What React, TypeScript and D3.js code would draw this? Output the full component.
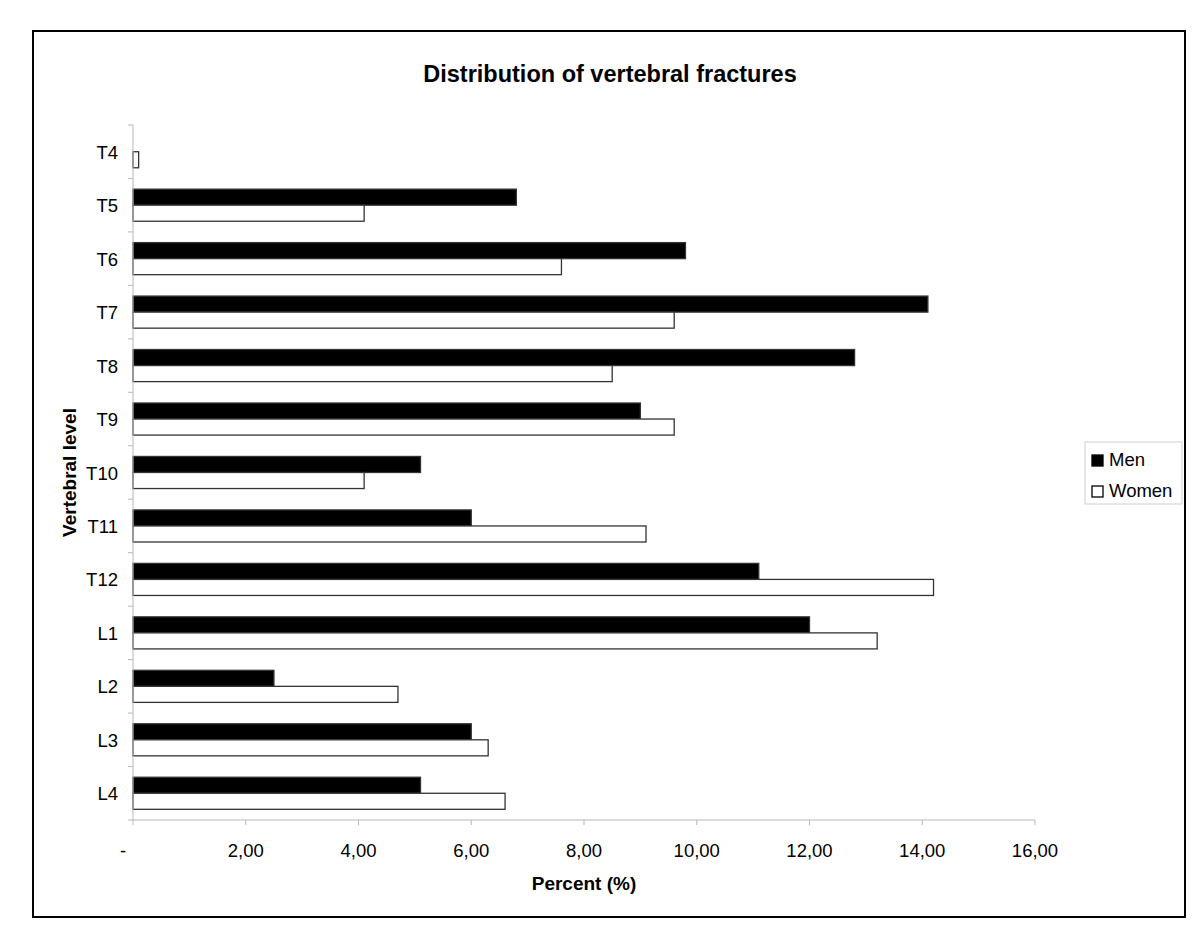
import React from 'react';
import * as d3 from 'd3';

const levels = ['T4', 'T5', 'T6', 'T7', 'T8', 'T9', 'T10', 'T11', 'T12', 'L1', 'L2', 'L3', 'L4'];
const men = [0, 6.8, 9.8, 14.1, 12.8, 9.0, 5.1, 6.0, 11.1, 12.0, 2.5, 6.0, 5.1];
const women = [0.1, 4.1, 7.6, 9.6, 8.5, 9.6, 4.1, 9.1, 14.2, 13.2, 4.7, 6.3, 6.6];
const seriesNames = ['Men', 'Women'];
const xTicks = [0, 2, 4, 6, 8, 10, 12, 14, 16];

const W = 1200, H = 936;
const M = { left: 133, right: 165, top: 125, bottom: 116 };
const FONT = '"Liberation Sans", Arial, sans-serif';
const AXIS = '#b8b8b8';

export default function App() {
  const x = d3.scaleLinear().domain([0, 16]).range([M.left, W - M.right]);
  const y = d3.scaleBand().domain(levels).range([M.top, H - M.bottom]).paddingInner(0.4).paddingOuter(0.2);
  const sub = d3.scaleBand().domain(seriesNames).range([0, y.bandwidth()]);
  const step = y.step();
  const fmt = (v: number) => (v === 0 ? '-' : d3.format('.2f')(v).replace('.', ','));
  const series = [
    { name: 'Men', values: men, fill: '#000' },
    { name: 'Women', values: women, fill: '#fff' },
  ];
  const plotBottom = H - M.bottom;

  return (
    <svg width={W} height={H} style={{ position: 'absolute', left: 0, top: 0, background: '#fff' }} fontFamily={FONT}>
      <rect x={33} y={31} width={1152} height={886} fill="#fff" stroke="#000" strokeWidth={2} />
      <text x={610} y={82} textAnchor="middle" fontSize={23.5} fontWeight="bold">Distribution of vertebral fractures</text>

      {/* bars */}
      {series.map(s => (
        <g key={s.name}>
          {levels.map((lv, i) => s.values[i] > 0 && (
            <rect key={lv} x={x(0)} y={(y(lv) as number) + (sub(s.name) as number)} width={x(s.values[i]) - x(0)}
              height={sub.bandwidth()} fill={s.fill} stroke="#333" strokeWidth={1.3} />
          ))}
        </g>
      ))}

      {/* y axis */}
      <line x1={x(0)} x2={x(0)} y1={M.top} y2={plotBottom} stroke={AXIS} />
      {levels.map((lv, i) => (
        <line key={'yt' + lv} x1={x(0) - 5} x2={x(0)} y1={M.top + i * step} y2={M.top + i * step} stroke={AXIS} />
      ))}
      <line x1={x(0) - 5} x2={x(0)} y1={plotBottom} y2={plotBottom} stroke={AXIS} />
      {levels.map(lv => (
        <text key={'yl' + lv} x={118} y={(y(lv) as number) + y.bandwidth() / 2 + 7} textAnchor="end" fontSize={18.5}>{lv}</text>
      ))}
      <text transform={`translate(76,${(M.top + plotBottom) / 2}) rotate(-90)`} textAnchor="middle" fontSize={19} fontWeight="bold">Vertebral level</text>

      {/* x axis */}
      <line x1={x(0)} x2={x(16)} y1={plotBottom} y2={plotBottom} stroke={AXIS} />
      {xTicks.map(t => (
        <g key={'xt' + t}>
          <line x1={x(t)} x2={x(t)} y1={plotBottom} y2={plotBottom + 5} stroke={AXIS} />
          <text x={x(t) + (t === 0 ? -10 : 0)} y={857} textAnchor="middle" fontSize={18.5}>{fmt(t)}</text>
        </g>
      ))}
      <text x={(x(0) + x(16)) / 2} y={890} textAnchor="middle" fontSize={19} fontWeight="bold">Percent (%)</text>

      {/* legend */}
      <rect x={1085} y={442} width={97} height={62} fill="#fff" stroke="#d0d0d0" />
      {series.map((s, i) => (
        <g key={'lg' + s.name} transform={`translate(1092,${455 + i * 31})`}>
          <rect x={0} y={0} width={11} height={11} fill={s.fill} stroke="#000" strokeWidth={1.3} />
          <text x={17} y={11} fontSize={18.5}>{s.name}</text>
        </g>
      ))}
    </svg>
  );
}
